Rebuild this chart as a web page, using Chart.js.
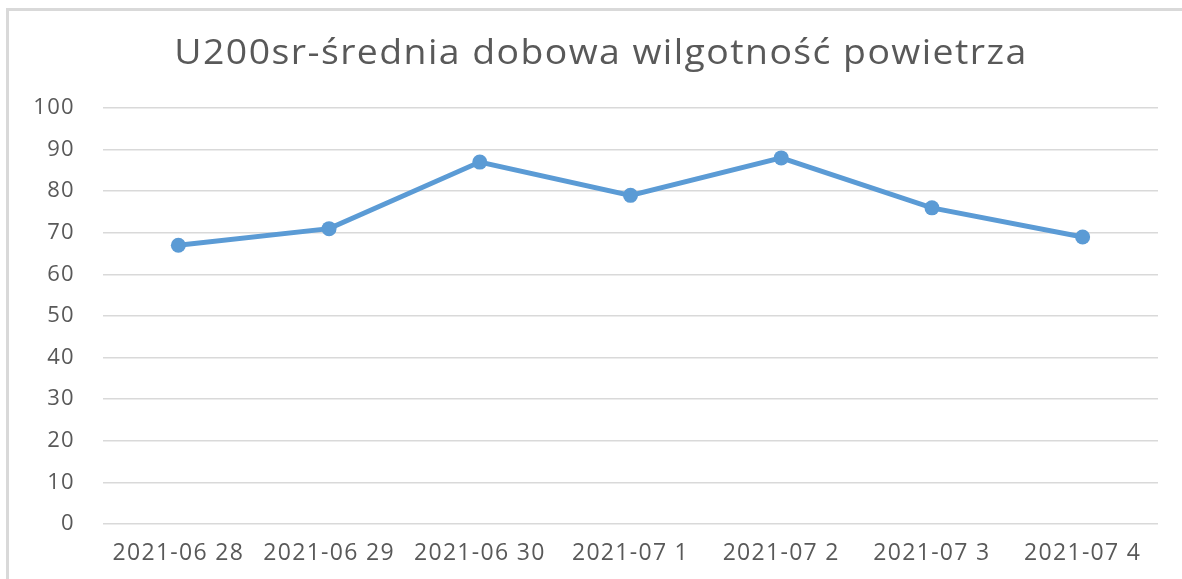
<!DOCTYPE html>
<html>
<head>
<meta charset="utf-8">
<script src="https://cdn.jsdelivr.net/npm/chart.js@4/dist/chart.umd.min.js"></script>
<style>
  html, body { margin: 0; padding: 0; background: #ffffff; width: 1182px; height: 579px; overflow: hidden; }
  #frame { position: absolute; left: 6px; top: 8px; width: 1300px; height: 700px; border-left: 3px solid #d9d9d9; border-top: 3px solid #d9d9d9; }
  #c { position: absolute; left: 0; top: 0; }
</style>
</head>
<body>
<div id="frame"></div>
<canvas id="c" width="1182" height="579"></canvas>
<script>
const categories = ["2021-06 28", "2021-06 29", "2021-06 30", "2021-07 1", "2021-07 2", "2021-07 3", "2021-07 4"];
const humidity = [67, 71, 87, 79, 88, 76, 69];
const yMin = 0, yMax = 100, yStep = 10;
const titleText = "U200sr-średnia dobowa wilgotność powietrza";

const FONT = "'Open Sans', 'Noto Sans', sans-serif";

const spacingPlugin = {
  id: 'spacing',
  beforeDraw(chart) { chart.ctx.letterSpacing = '1.3px'; },
  afterDraw(chart) {
    const ctx = chart.ctx;
    ctx.save();
    ctx.letterSpacing = '1.3px';
    ctx.font = "34px " + FONT;
    ctx.fillStyle = '#595959';
    ctx.textAlign = 'center';
    ctx.textBaseline = 'alphabetic';
    ctx.translate(601, 64);
    ctx.scale(1.1, 1);
    ctx.fillText(titleText, 0, 0);
    ctx.restore();
    ctx.letterSpacing = '0px';
  }
};

new Chart(document.getElementById('c'), {
  type: 'line',
  data: {
    labels: categories,
    datasets: [{
      data: humidity,
      borderColor: '#5b9bd5',
      backgroundColor: '#5b9bd5',
      borderWidth: 5,
      pointRadius: 7.5,
      pointHoverRadius: 7.5,
      pointBorderWidth: 0,
      tension: 0,
      fill: false
    }]
  },
  options: {
    responsive: false,
    animation: false,
    layout: { padding: { top: 108, right: 24, bottom: 0, left: 0 } },
    plugins: {
      legend: { display: false },
      tooltip: { enabled: false },
      title: { display: false }
    },
    scales: {
      x: {
        offset: true,
        afterFit: s => { s.height = 55; },
        grid: { display: false, drawTicks: false },
        border: { display: false },
        ticks: { color: '#595959', font: { family: FONT, size: 23 }, padding: 16, maxRotation: 0, autoSkip: false }
      },
      y: {
        min: yMin,
        max: yMax,
        afterFit: s => { s.width = 103; },
        grid: { color: '#d9d9d9', lineWidth: 1.5, drawTicks: false },
        border: { display: false },
        ticks: { stepSize: yStep, color: '#595959', font: { family: FONT, size: 22 }, padding: 28 }
      }
    }
  },
  plugins: [spacingPlugin]
});
</script>
</body>
</html>
